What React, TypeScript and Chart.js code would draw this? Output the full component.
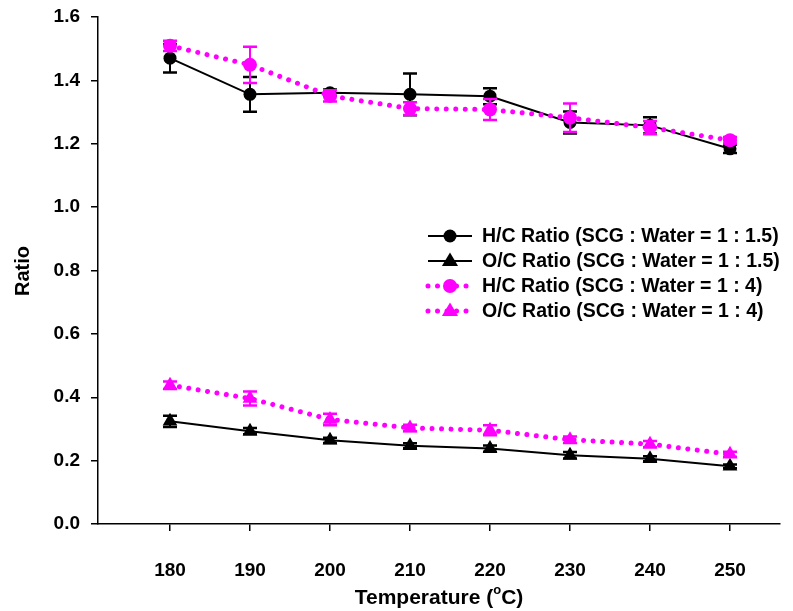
import React, { useEffect, useRef } from "react";
import { Chart, registerables } from "chart.js";

Chart.register(...registerables);

const temps = [180, 190, 200, 210, 220, 230, 240, 250];
const xTickValues = [180, 190, 200, 210, 220, 230, 240, 250];
const yTickStep = 0.2;

const hcWater15 = [1.47, 1.356, 1.361, 1.356, 1.35, 1.267, 1.258, 1.184];
const hcWater15Err = [0.045, 0.055, 0.01, 0.066, 0.025, 0.035, 0.026, 0.013];
const ocWater15 = [0.324, 0.293, 0.264, 0.247, 0.238, 0.217, 0.206, 0.182];
const ocWater15Err = [0.018, 0.01, 0.008, 0.008, 0.01, 0.01, 0.008, 0.006];
const hcWater4 = [1.509, 1.449, 1.351, 1.311, 1.308, 1.282, 1.251, 1.211];
const hcWater4Err = [0.016, 0.057, 0.018, 0.02, 0.033, 0.045, 0.021, 0.01];
const ocWater4 = [0.438, 0.396, 0.33, 0.303, 0.296, 0.266, 0.252, 0.22];
const ocWater4Err = [0.012, 0.022, 0.018, 0.01, 0.016, 0.01, 0.01, 0.008];

const seriesLabels = [
  "H/C Ratio (SCG : Water = 1 : 1.5)",
  "O/C Ratio (SCG : Water = 1 : 1.5)",
  "H/C Ratio (SCG : Water = 1 : 4)",
  "O/C Ratio (SCG : Water = 1 : 4)",
];

const BLACK = "#000000";
const MAGENTA = "#ff00ff";
const FONT = "Liberation Sans, Arial, sans-serif";

const toPts = (ys: number[]) => temps.map((t, i) => ({ x: t, y: ys[i] }));

const errorBarPlugin = {
  id: "errorBars",
  afterDatasetDraw(chart: any, args: any) {
    const ds: any = chart.data.datasets[args.index];
    if (!ds.errors) return;
    const ctx = chart.ctx;
    const ys = chart.scales.y;
    const meta = args.meta;
    ctx.save();
    ctx.strokeStyle = ds.borderColor;
    ctx.lineCap = "butt";
    meta.data.forEach((pt: any, i: number) => {
      const v = ds.data[i].y;
      const e = ds.errors[i];
      const yHi = ys.getPixelForValue(v + e);
      const yLo = ys.getPixelForValue(v - e);
      const x = pt.x;
      ctx.lineWidth = 2;
      ctx.beginPath();
      ctx.moveTo(x, yHi);
      ctx.lineTo(x, yLo);
      ctx.stroke();
      ctx.lineWidth = 2.5;
      ctx.beginPath();
      ctx.moveTo(x - 7, yHi);
      ctx.lineTo(x + 7, yHi);
      ctx.moveTo(x - 7, yLo);
      ctx.lineTo(x + 7, yLo);
      ctx.stroke();
    });
    ctx.restore();
  },
};

const decorPlugin = {
  id: "decor",
  afterDraw(chart: any) {
    const ctx = chart.ctx;
    const area = chart.chartArea;
    ctx.save();
    // Y title
    ctx.fillStyle = BLACK;
    ctx.font = `bold 20px ${FONT}`;
    ctx.textAlign = "center";
    ctx.textBaseline = "middle";
    ctx.save();
    ctx.translate(23, 271);
    ctx.rotate(-Math.PI / 2);
    ctx.fillText("Ratio", 0, 0);
    ctx.restore();
    // X title with superscript
    const cx = (area.left + area.right) / 2;
    const ty = 598;
    const p1 = "Temperature (";
    const sup = "o";
    const p2 = "C)";
    ctx.font = `bold 21px ${FONT}`;
    const w1 = ctx.measureText(p1).width;
    const w3 = ctx.measureText(p2).width;
    ctx.font = `bold 13px ${FONT}`;
    const w2 = ctx.measureText(sup).width;
    const total = w1 + w2 + w3;
    let x = cx - total / 2;
    ctx.textAlign = "left";
    ctx.textBaseline = "middle";
    ctx.font = `bold 21px ${FONT}`;
    ctx.fillText(p1, x, ty);
    x += w1;
    ctx.font = `bold 13px ${FONT}`;
    ctx.fillText(sup, x, ty - 8);
    x += w2;
    ctx.font = `bold 21px ${FONT}`;
    ctx.fillText(p2, x, ty);

    // Legend
    const rows = [236, 261, 286, 311];
    const lx0 = 428;
    const lx1 = 472;
    const mx = 450;
    chart.data.datasets.forEach((ds: any, i: number) => {
      const y = rows[i];
      ctx.save();
      ctx.strokeStyle = ds.borderColor;
      ctx.lineWidth = ds.borderWidth;
      ctx.lineCap = ds.borderCapStyle || "butt";
      ctx.setLineDash(ds.borderDash || []);
      ctx.beginPath();
      ctx.moveTo(lx0, y);
      ctx.lineTo(lx1, y);
      ctx.stroke();
      ctx.restore();
      ctx.fillStyle = ds.pointBackgroundColor;
      ctx.beginPath();
      if (ds.pointStyle === "triangle") {
        const r = ds.pointRadius;
        ctx.moveTo(mx, y - r);
        ctx.lineTo(mx + r * 0.95, y + r * 0.6);
        ctx.lineTo(mx - r * 0.95, y + r * 0.6);
        ctx.closePath();
      } else {
        ctx.arc(mx, y, ds.pointRadius, 0, Math.PI * 2);
      }
      ctx.fill();
      ctx.fillStyle = BLACK;
      ctx.font = `bold 19.5px ${FONT}`;
      ctx.textAlign = "left";
      ctx.textBaseline = "middle";
      ctx.fillText(seriesLabels[i], 482, y + 1);
    });
    ctx.restore();
  },
};

export default function App() {
  const canvasRef = useRef<HTMLCanvasElement | null>(null);

  useEffect(() => {
    document.body.style.margin = "0";
    const canvas = canvasRef.current;
    if (!canvas) return;
    const solid = {
      borderWidth: 2,
      showLine: true,
      borderColor: BLACK,
      backgroundColor: BLACK,
      pointBackgroundColor: BLACK,
      pointBorderWidth: 0,
      order: 1,
    };
    const dotted = {
      borderWidth: 5,
      borderDash: [0.01, 9.5],
      borderCapStyle: "round",
      showLine: true,
      borderColor: MAGENTA,
      backgroundColor: MAGENTA,
      pointBackgroundColor: MAGENTA,
      pointBorderWidth: 0,
      order: 0,
    };
    const chart = new Chart(canvas, {
      type: "scatter",
      data: {
        datasets: [
          { ...solid, label: seriesLabels[0], data: toPts(hcWater15), errors: hcWater15Err, pointStyle: "circle", pointRadius: 6.5 } as any,
          { ...solid, label: seriesLabels[1], data: toPts(ocWater15), errors: ocWater15Err, pointStyle: "triangle", pointRadius: 8.5 } as any,
          { ...dotted, label: seriesLabels[2], data: toPts(hcWater4), errors: hcWater4Err, pointStyle: "circle", pointRadius: 7 } as any,
          { ...dotted, label: seriesLabels[3], data: toPts(ocWater4), errors: ocWater4Err, pointStyle: "triangle", pointRadius: 8.5 } as any,
        ],
      },
      options: {
        animation: false,
        responsive: true,
        maintainAspectRatio: false,
        layout: { padding: { left: 0, right: 13, top: 17, bottom: 0 } },
        plugins: { legend: { display: false }, tooltip: { enabled: false } },
        scales: {
          x: {
            type: "linear",
            min: 171,
            max: 256.25,
            afterBuildTicks: (scale: any) => {
              scale.ticks = xTickValues.map((v) => ({ value: v }));
            },
            afterFit: (scale: any) => {
              scale.height = 87;
              scale.paddingLeft = 0;
              scale.paddingRight = 0;
            },
            grid: { display: true, drawOnChartArea: false, drawTicks: true, tickLength: 7, color: BLACK, lineWidth: 1.5 },
            border: { display: true, color: BLACK, width: 1.5 },
            ticks: {
              color: BLACK,
              font: { family: FONT, size: 19, weight: "bold" },
              padding: 28,
              maxRotation: 0,
              callback: (v: any) => String(v),
            },
          },
          y: {
            type: "linear",
            min: 0,
            max: 1.6,
            afterFit: (scale: any) => {
              scale.width = 98;
              scale.paddingTop = 0;
              scale.paddingBottom = 0;
            },
            grid: { display: true, drawOnChartArea: false, drawTicks: true, tickLength: 7, color: BLACK, lineWidth: 1.5 },
            border: { display: true, color: BLACK, width: 1.5 },
            ticks: {
              stepSize: yTickStep,
              color: BLACK,
              font: { family: FONT, size: 19, weight: "bold" },
              padding: 11,
              callback: (v: any) => Number(v).toFixed(1),
            },
          },
        },
      } as any,
      plugins: [errorBarPlugin, decorPlugin],
    });
    return () => chart.destroy();
  }, []);

  return (
    <div style={{ width: 793, height: 611, position: "relative" }}>
      <canvas ref={canvasRef} />
    </div>
  );
}
